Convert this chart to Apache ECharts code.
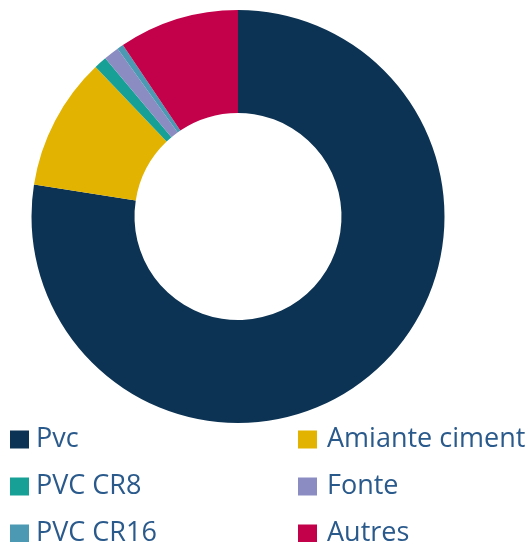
<!DOCTYPE html>
<html>
<head>
<meta charset="utf-8">
<script src="https://cdn.jsdelivr.net/npm/echarts@6/dist/echarts.min.js"></script>
<style>html,body{margin:0;padding:0;background:#fff;}#c{width:531px;height:542px;}</style>
</head>
<body>
<div id="c"></div>
<script>
const categories = ["Pvc", "Amiante ciment", "PVC CR8", "Fonte", "PVC CR16", "Autres"];
const values = [77.4, 10.4, 1.0, 1.2, 0.5, 9.4];
const colors = ["#0c3353", "#e2b300", "#16a096", "#8a8cc2", "#4b99b2", "#c3004a"];

const chart = echarts.init(document.getElementById('c'), null, {renderer: 'canvas'});
const colLeft = [10, 298];
const colPad = [2, 5];
const rowCenter = [438, 485, 532];
const legends = categories.map((name, i) => ({
  orient: 'horizontal',
  left: colLeft[i % 2],
  top: rowCenter[Math.floor(i / 2)] - 12,
  icon: 'rect',
  itemWidth: 19,
  itemHeight: 18,
  padding: 0,
  selectedMode: false,
  data: [name],
  textStyle: {
    fontFamily: '"Open Sans", sans-serif',
    fontSize: 27,
    lineHeight: 26,
    color: '#2a5a8c',
    padding: [0, 0, 0, colPad[i % 2]]
  }
}));
chart.setOption({
  animation: false,
  color: colors,
  legend: legends,
  series: [{
    type: 'pie',
    center: [238, 216.5],
    radius: [103.5, 206.5],
    startAngle: 90,
    clockwise: true,
    label: {show: false},
    labelLine: {show: false},
    emphasis: {disabled: true},
    itemStyle: {borderWidth: 0},
    data: categories.map((n, i) => ({name: n, value: values[i]}))
  }]
});
</script>
</body>
</html>
